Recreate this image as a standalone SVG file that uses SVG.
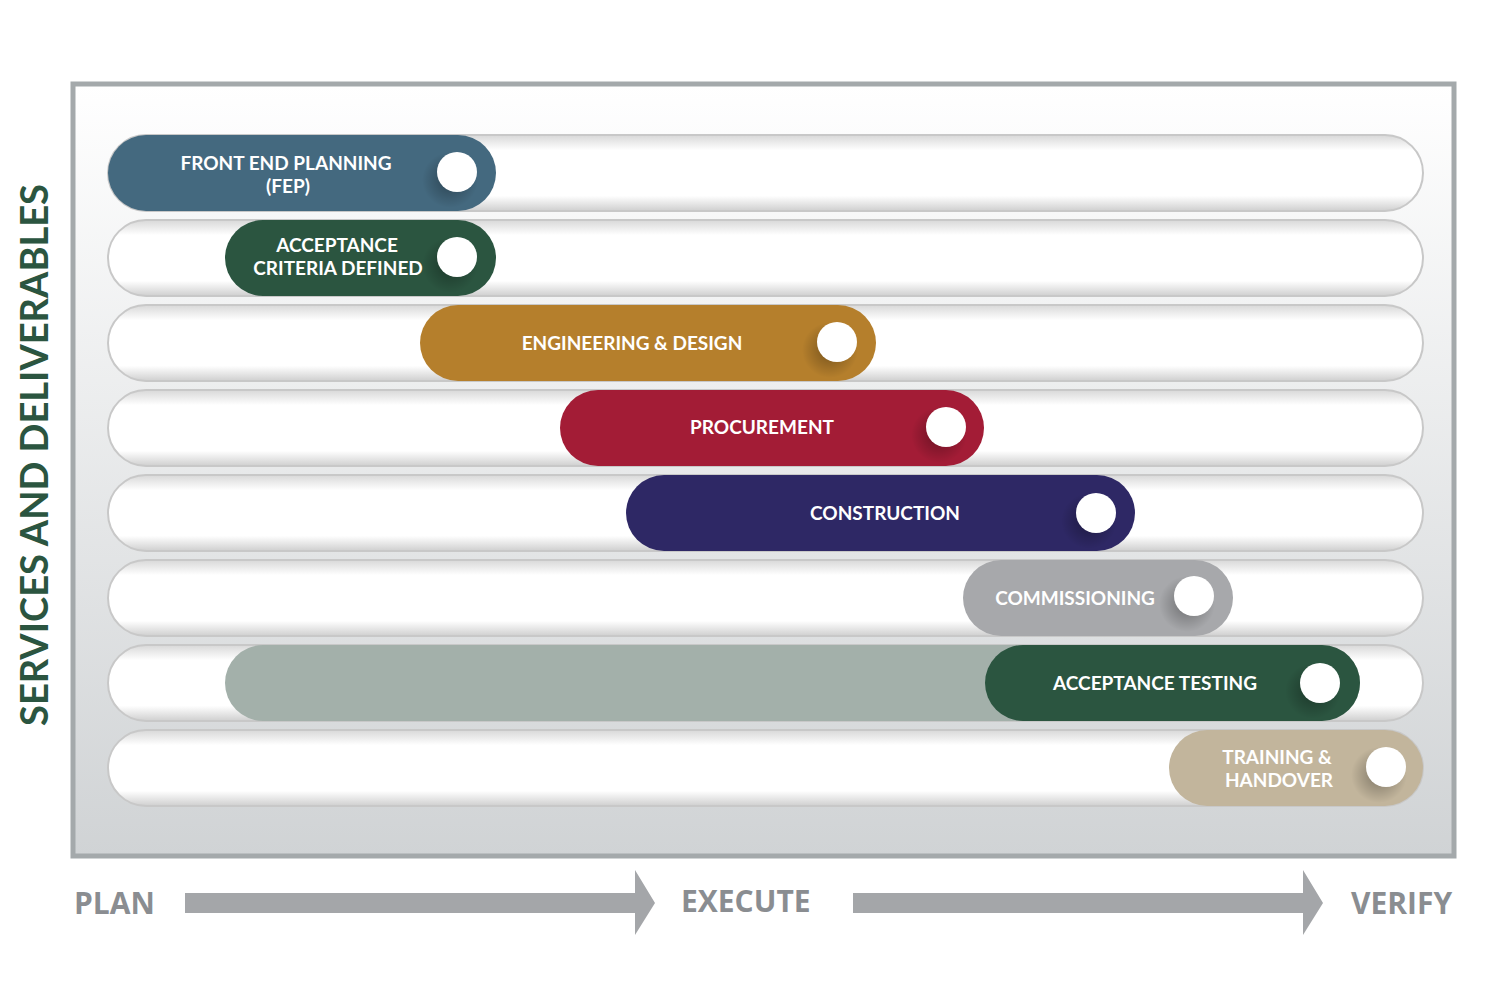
<svg xmlns="http://www.w3.org/2000/svg" width="1500" height="1000" viewBox="0 0 1500 1000">
<defs>
<linearGradient id="bg" x1="0" y1="0" x2="0" y2="1"><stop offset="0" stop-color="#ffffff"/><stop offset="1" stop-color="#d0d3d5"/></linearGradient>
<linearGradient id="trk" x1="0" y1="0" x2="0" y2="1"><stop offset="0" stop-color="#d8d8d8"/><stop offset="0.2" stop-color="#ffffff"/><stop offset="0.8" stop-color="#ffffff"/><stop offset="1" stop-color="#cfcfcf"/></linearGradient>
<radialGradient id="sh"><stop offset="0" stop-color="#000" stop-opacity="0.35"/><stop offset="1" stop-color="#000" stop-opacity="0"/></radialGradient>
</defs>
<style>
.trk{fill:url(#trk);stroke:#c8c8c8;stroke-width:2}
.lbl{font-family:Lato,"Open Sans",sans-serif;font-weight:bold;font-size:19px;fill:#fff;text-anchor:middle}
.dot{fill:#fff}
.ax{font-family:"Open Sans",Lato,sans-serif;font-weight:bold;font-size:30px;fill:#8a8d91}
.arr{fill:#a4a6a9}
</style>
<rect x="73" y="84" width="1381" height="772" fill="url(#bg)" stroke="#a4a9ab" stroke-width="5"/>
<g id="tracks">
<rect class="trk" x="108" y="135" width="1315" height="76" rx="38"/>
<rect class="trk" x="108" y="220" width="1315" height="76" rx="38"/>
<rect class="trk" x="108" y="305" width="1315" height="76" rx="38"/>
<rect class="trk" x="108" y="390" width="1315" height="76" rx="38"/>
<rect class="trk" x="108" y="475" width="1315" height="76" rx="38"/>
<rect class="trk" x="108" y="560" width="1315" height="76" rx="38"/>
<rect class="trk" x="108" y="645" width="1315" height="76" rx="38"/>
<rect class="trk" x="108" y="730" width="1315" height="76" rx="38"/>
</g>
<g id="fep"><rect x="108" y="135" width="388" height="76" rx="38" fill="#44697f"/><circle cx="450" cy="180" r="28" fill="url(#sh)"/><circle class="dot" cx="457" cy="172" r="20"/><text class="lbl" x="286" y="170">FRONT END PLANNING</text><text class="lbl" x="288" y="193">(FEP)</text></g>
<g id="acd"><rect x="225" y="220" width="271" height="76" rx="38" fill="#2b5540"/><circle cx="450" cy="265" r="28" fill="url(#sh)"/><circle class="dot" cx="457" cy="257" r="20"/><text class="lbl" x="337" y="252">ACCEPTANCE</text><text class="lbl" x="338" y="275">CRITERIA DEFINED</text></g>
<g id="eng"><rect x="420" y="305" width="456" height="76" rx="38" fill="#b57f2c"/><circle cx="830" cy="350" r="28" fill="url(#sh)"/><circle class="dot" cx="837" cy="342" r="20"/><text class="lbl" x="632" y="350">ENGINEERING &amp; DESIGN</text></g>
<g id="proc"><rect x="560" y="390" width="424" height="76" rx="38" fill="#a31c36"/><circle cx="939" cy="435" r="28" fill="url(#sh)"/><circle class="dot" cx="946" cy="427" r="20"/><text class="lbl" x="762" y="434">PROCUREMENT</text></g>
<g id="cons"><rect x="626" y="475" width="509" height="76" rx="38" fill="#2e2865"/><circle cx="1089" cy="521" r="28" fill="url(#sh)"/><circle class="dot" cx="1096" cy="513" r="20"/><text class="lbl" x="885" y="520">CONSTRUCTION</text></g>
<g id="comm"><rect x="963" y="560" width="270" height="76" rx="38" fill="#a7a8ab"/><circle cx="1187" cy="604" r="28" fill="url(#sh)"/><circle class="dot" cx="1194" cy="596" r="20"/><text class="lbl" x="1075" y="605">COMMISSIONING</text></g>
<g id="at"><rect x="225" y="645" width="1135" height="76" rx="38" fill="#a3b0aa"/><rect x="985" y="645" width="375" height="76" rx="38" fill="#2b5540"/><circle cx="1313" cy="691" r="28" fill="url(#sh)"/><circle class="dot" cx="1320" cy="683" r="20"/><text class="lbl" x="1155" y="690">ACCEPTANCE  TESTING</text></g>
<g id="trn"><rect x="1169" y="730" width="254" height="76" rx="38" fill="#c2b59c"/><circle cx="1379" cy="775" r="28" fill="url(#sh)"/><circle class="dot" cx="1386" cy="767" r="20"/><text class="lbl" x="1277" y="764">TRAINING &amp;</text><text class="lbl" x="1279" y="787">HANDOVER</text></g>
<text x="48" y="455" transform="rotate(-90 48 455)" text-anchor="middle" font-family="Lato,'Open Sans',sans-serif" font-weight="bold" font-size="38" fill="#2b5540">SERVICES AND DELIVERABLES</text>
<g id="connectors">
<polygon class="arr" points="185,893 635,893 635,870 655,903 635,935 635,913 185,913"/>
<polygon class="arr" points="853,893 1303,893 1303,870 1323,903 1303,935 1303,913 853,913"/>
</g>
<text class="ax" x="74" y="914">PLAN</text>
<text class="ax" x="681" y="912">EXECUTE</text>
<text class="ax" x="1351" y="914">VERIFY</text>
</svg>
